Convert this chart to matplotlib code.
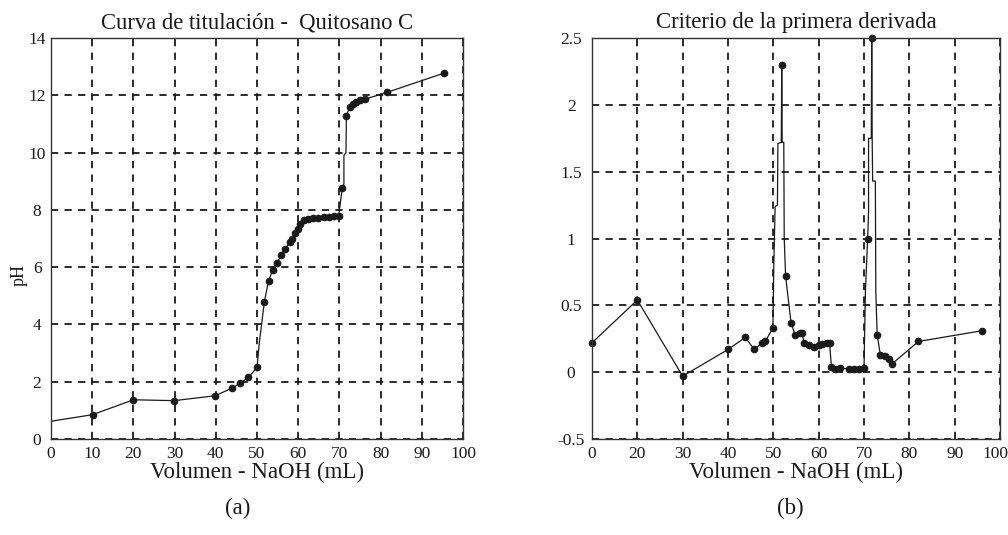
import matplotlib
matplotlib.use('Agg')
import matplotlib.pyplot as plt
import matplotlib.transforms as mtransforms

plt.rcParams['font.family'] = ['Liberation Serif', 'DejaVu Serif']
plt.rcParams['axes.unicode_minus'] = False

# (a) titration curve
vol_a = [0, 10.1, 20, 29.9, 39.8, 44, 45.9, 47.9, 50, 50.6, 51.2, 51.8, 52.8, 53.8,
         54.8, 55.9, 56.8, 57.9, 58.5, 59.3, 59.9, 60.5, 61.3, 62.5, 63.7, 64.9,
         66.2, 67.4, 68.6, 69.8, 70.2, 70.7, 71.1, 71.1, 71.6, 71.7, 72.5, 73.3,
         74.1, 75.1, 76.3, 81.5, 95.5]
ph_a = [0.62, 0.85, 1.37, 1.34, 1.51, 1.78, 1.95, 2.15, 2.5, 3.4, 4.1, 4.8, 5.52, 5.9,
        6.13, 6.43, 6.62, 6.87, 7.0, 7.18, 7.35, 7.5, 7.65, 7.68, 7.7, 7.73,
        7.74, 7.76, 7.77, 7.78, 8.2, 8.78, 8.9, 9.9, 10.0, 11.27, 11.6, 11.68,
        11.77, 11.83, 11.87, 12.1, 12.78]
marks_a = list(range(1, 9)) + list(range(11, 30)) + [31] + list(range(35, 43))

# (b) first derivative
vol_b = [10, 20, 30, 40, 43.8, 45.8, 47.5, 48.2, 49.9, 50.1, 50.4, 50.9, 51.0, 51.75,
         51.85, 51.95, 52.3, 52.4, 52.7, 53.9, 54.8, 55.8, 56.3, 56.8, 57.8, 58.9,
         60, 60.7, 61.8, 62.4, 62.8, 63.6, 64.7, 66.6, 67.7, 68.8, 70.0, 70.3,
         70.8, 71.0, 71.0, 71.6, 71.7, 71.8, 71.9, 72.5, 72.6, 72.9, 73.6, 74.7,
         75.4, 76.1, 82, 96]
dph_b = [0.22, 0.54, -0.03, 0.17, 0.26, 0.17, 0.22, 0.23, 0.33, 0.8, 1.24, 1.25, 1.71,
         1.72, 2.3, 1.72, 1.72, 1.0, 0.72, 0.37, 0.28, 0.29, 0.29, 0.22, 0.2, 0.19,
         0.2, 0.21, 0.22, 0.22, 0.04, 0.025, 0.03, 0.025, 0.025, 0.025, 0.03, 0.6,
         1.0, 1.2, 1.75, 1.75, 2.5, 1.75, 1.43, 1.43, 0.6, 0.28, 0.13, 0.12,
         0.1, 0.06, 0.23, 0.31]
marks_b = list(range(0, 9)) + [14] + list(range(18, 37)) + [38, 42] + list(range(47, 54))

xticks_a = [0, 10, 20, 30, 40, 50, 60, 70, 80, 90, 100]
xticks_b = [10, 20, 30, 40, 50, 60, 70, 80, 90, 100]
xlabels_b = ['0', '20', '30', '40', '50', '60', '70', '80', '90', '100']
yticks_a = [0, 2, 4, 6, 8, 10, 12, 14]
ylabels_a = ['0', '2', '4', '6', '8', '10', '12', '14']
yticks_b = [-0.5, 0, 0.5, 1, 1.5, 2, 2.5]
ylabels_b = ['-0.5', '0', '0.5', '1', '1.5', '2', '2.5']

fig = plt.figure(figsize=(10.08, 5.35), dpi=100)
ax1 = fig.add_axes([0.0506, 0.1794, 0.4087, 0.7495])
ax2 = fig.add_axes([0.5873, 0.1794, 0.4048, 0.7495])

lc = '#1a1a1a'


def style(ax, ypad):
    ax.grid(True, color=lc, linestyle=(0, (4, 3.5)), linewidth=1.3)
    ax.set_axisbelow(True)
    for s in ax.spines.values():
        s.set_color('#333333')
        s.set_linewidth(1.0)
    ax.tick_params(length=0, labelsize=12.5, colors=lc)
    ax.tick_params(axis='x', pad=5)
    ax.tick_params(axis='y', pad=ypad)
    ax.set_xlabel('Volumen - NaOH (mL)', fontsize=16.5, labelpad=0, color=lc)


ax1.plot(vol_a, ph_a, '-', color=lc, linewidth=0.9, marker='o', markersize=4.5,
         markevery=marks_a)
ax1.set_xlim(0, 100)
ax1.set_ylim(0, 14)
ax1.set_xticks(xticks_a)
ax1.set_yticks(yticks_a)
ax1.set_yticklabels(ylabels_a, ha='center')
style(ax1, 10)
ax1.set_ylabel('pH', fontsize=13, color=lc)
ax1.yaxis.set_label_coords(-0.056, 0.41)
ax1.set_title('Curva de titulación -  Quitosano C', fontsize=16.3, pad=7, color=lc)

ax2.plot(vol_b, dph_b, '-', color=lc, linewidth=0.9, marker='o', markersize=4.5,
         markevery=marks_b, clip_on=False)
ax2.set_xlim(10, 100)
ax2.set_ylim(-0.5, 2.5)
ax2.set_xticks(xticks_b)
ax2.set_xticklabels(xlabels_b)
ax2.set_yticks(yticks_b)
ax2.set_yticklabels(ylabels_b, ha='center')
style(ax2, 15)
ax2.set_title('Criterio de la primera derivada', fontsize=16.4, pad=7, color=lc)

# nudge the last x label so it stays inside the figure
last = ax2.get_xticklabels()[-1]
last.set_transform(last.get_transform() +
                   mtransforms.ScaledTranslation(-3 / 72, 0, fig.dpi_scale_trans))

fig.text(0.2357, 0.05, '(a)', fontsize=16.5, ha='center', va='center', color=lc)
fig.text(0.7837, 0.05, '(b)', fontsize=16.5, ha='center', va='center', color=lc)

fig.savefig('out.png', dpi=100)
